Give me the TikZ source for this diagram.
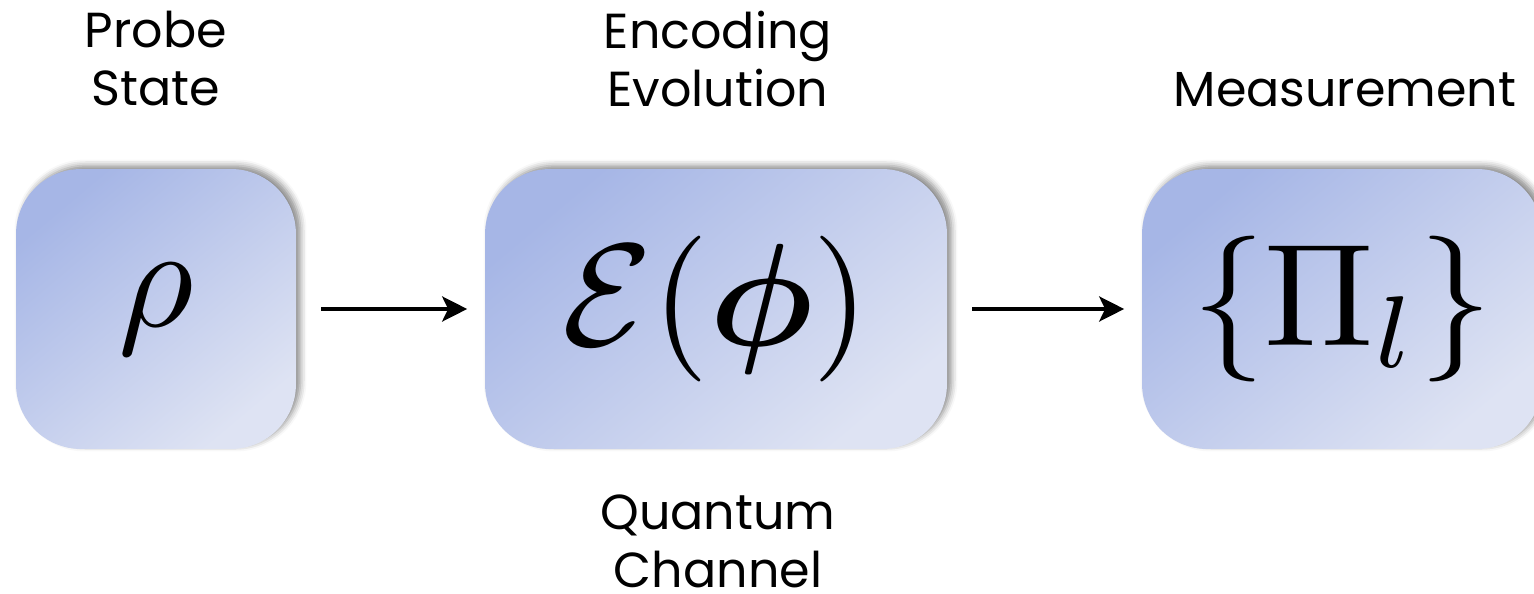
\documentclass[tikz,border=0pt]{standalone}
\usepackage{amsmath,amssymb}
\usepackage{graphicx}
\usepackage{fontspec}
\setmainfont{Poppins}
\usepackage{xcolor}
\definecolor{boxdark}{RGB}{166,182,230}
\definecolor{boxlight}{RGB}{222,227,243}
\usepackage{tikz}
\usetikzlibrary{positioning,arrows.meta,shadows.blur}
\newcommand{\bigsym}[1]{\scalebox{8.3}{$#1$}}

\begin{document}
\begin{tikzpicture}[x=0.02cm,y=-0.02cm,
      stage/.style={rectangle,rounded corners=1.3cm,minimum height=5.6cm,inner sep=0pt,
        top color=boxdark,bottom color=boxlight,shading angle=40,
        blur shadow={shadow xshift=0.09cm,shadow yshift=0.07cm,shadow opacity=45,shadow blur radius=0.12cm},
        font=\normalsize},
      caption/.style={align=center,inner sep=1pt,font=\fontsize{28}{33}\selectfont},
      arr/.style={-{Stealth[length=0.5cm,width=0.5cm,inset=0.12cm]},line width=2.3pt,black,
        shorten <=0.5cm,shorten >=0.35cm}]
    \useasboundingbox (0,0) rectangle (1534,594);
    \clip (0,0) rectangle (1534,594);
    % stages
    \node[stage,minimum width=5.6cm] (probe) at (156,309) {\bigsym{\rho}};
    \node[stage,minimum width=9.24cm] (enc) at (716,309) {\bigsym{\mathcal{E}(\boldsymbol{\phi})}};
    \node[stage,minimum width=8cm] (meas) at (1342,309) {\bigsym{\{\Pi_l\}}};
    % connections
    \draw[arr] (probe) -- (enc);
    \draw[arr] (enc) -- (meas);
    % captions
    \node[caption] (probelbl) at (156,59) {Probe\\State};
    \node[caption] (enclbl) at (718,59) {Encoding\\Evolution};
    \node[caption] (measlbl) at (1345,90) {Measurement};
    \node[caption] (chanlbl) at (718,541) {Quantum\\Channel};
  \end{tikzpicture}
\end{document}
